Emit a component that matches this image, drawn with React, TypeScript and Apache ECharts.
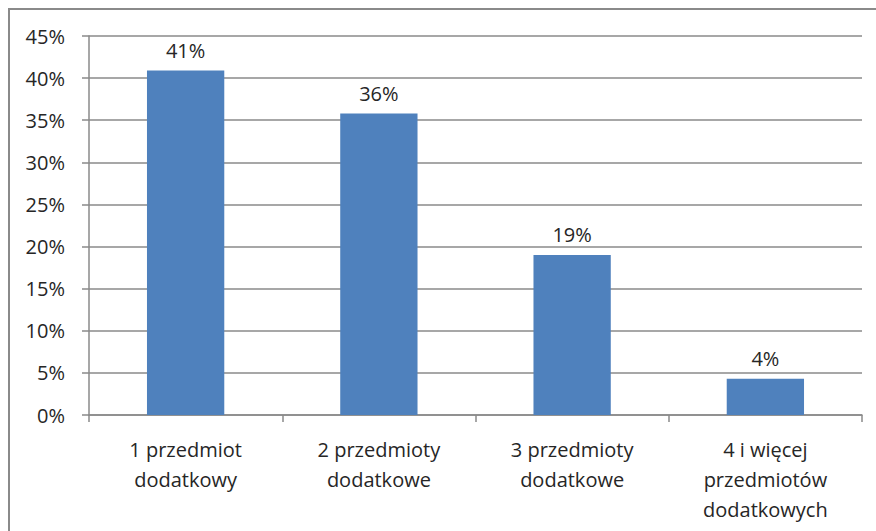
import React, { useEffect, useRef } from "react";
import * as echarts from "echarts";

const categories = [
  "1 przedmiot\ndodatkowy",
  "2 przedmioty\ndodatkowe",
  "3 przedmioty\ndodatkowe",
  "4 i więcej\nprzedmiotów\ndodatkowych",
];
const values = [0.409, 0.358, 0.19, 0.043];
const valueLabels = ["41%", "36%", "19%", "4%"];
const yTicks = [0, 0.05, 0.1, 0.15, 0.2, 0.25, 0.3, 0.35, 0.4, 0.45];

const FONT = "'Open Sans', 'Liberation Sans', sans-serif";
const TEXT = "#262626";
const GRID = "#8a8a8a";

export default function App() {
  const ref = useRef<HTMLDivElement>(null);
  useEffect(() => {
    if (!ref.current) return;
    const chart = echarts.init(ref.current, null, { renderer: "svg" });
    chart.setOption({
      animation: false,
      backgroundColor: "#ffffff",
      textStyle: { fontFamily: FONT },
      graphic: [
        {
          type: "rect",
          shape: { x: 9, y: 9, width: 900, height: 560 },
          style: { fill: "none", stroke: "#8a8a8a", lineWidth: 2 },
          silent: true,
        },
      ],
      grid: { left: 89, right: 14, top: 36, bottom: 116, containLabel: false },
      xAxis: {
        type: "category",
        data: categories,
        axisLine: { show: true, lineStyle: { color: GRID, width: 1.5 } },
        axisTick: { show: true, alignWithLabel: false, length: 7, lineStyle: { color: GRID, width: 1.5 } },
        axisLabel: {
          color: TEXT,
          fontSize: 20,
          fontFamily: FONT,
          lineHeight: 30,
          margin: 19,
          interval: 0,
        },
        splitLine: { show: false },
      },
      yAxis: {
        type: "value",
        min: 0,
        max: yTicks[yTicks.length - 1],
        interval: 0.05,
        axisLine: { show: true, lineStyle: { color: GRID, width: 1.5 } },
        axisTick: { show: true, length: 7, lineStyle: { color: GRID, width: 1.5 } },
        axisLabel: {
          color: TEXT,
          fontSize: 20,
          fontFamily: FONT,
          margin: 24,
          formatter: (v: number) => `${Math.round(v * 100)}%`,
        },
        splitLine: { show: true, lineStyle: { color: GRID, width: 1.5 } },
      },
      series: [
        {
          type: "bar",
          data: values,
          barWidth: "40%",
          itemStyle: { color: "#4F81BD" },
          label: {
            show: true,
            position: "top",
            distance: 10,
            color: TEXT,
            fontSize: 20,
            fontFamily: FONT,
            formatter: (p: any) => valueLabels[p.dataIndex],
          },
        },
      ],
    });
    return () => chart.dispose();
  }, []);
  return (
    <div
      ref={ref}
      style={{ position: "fixed", left: 0, top: 0, width: 876, height: 531 }}
    />
  );
}
